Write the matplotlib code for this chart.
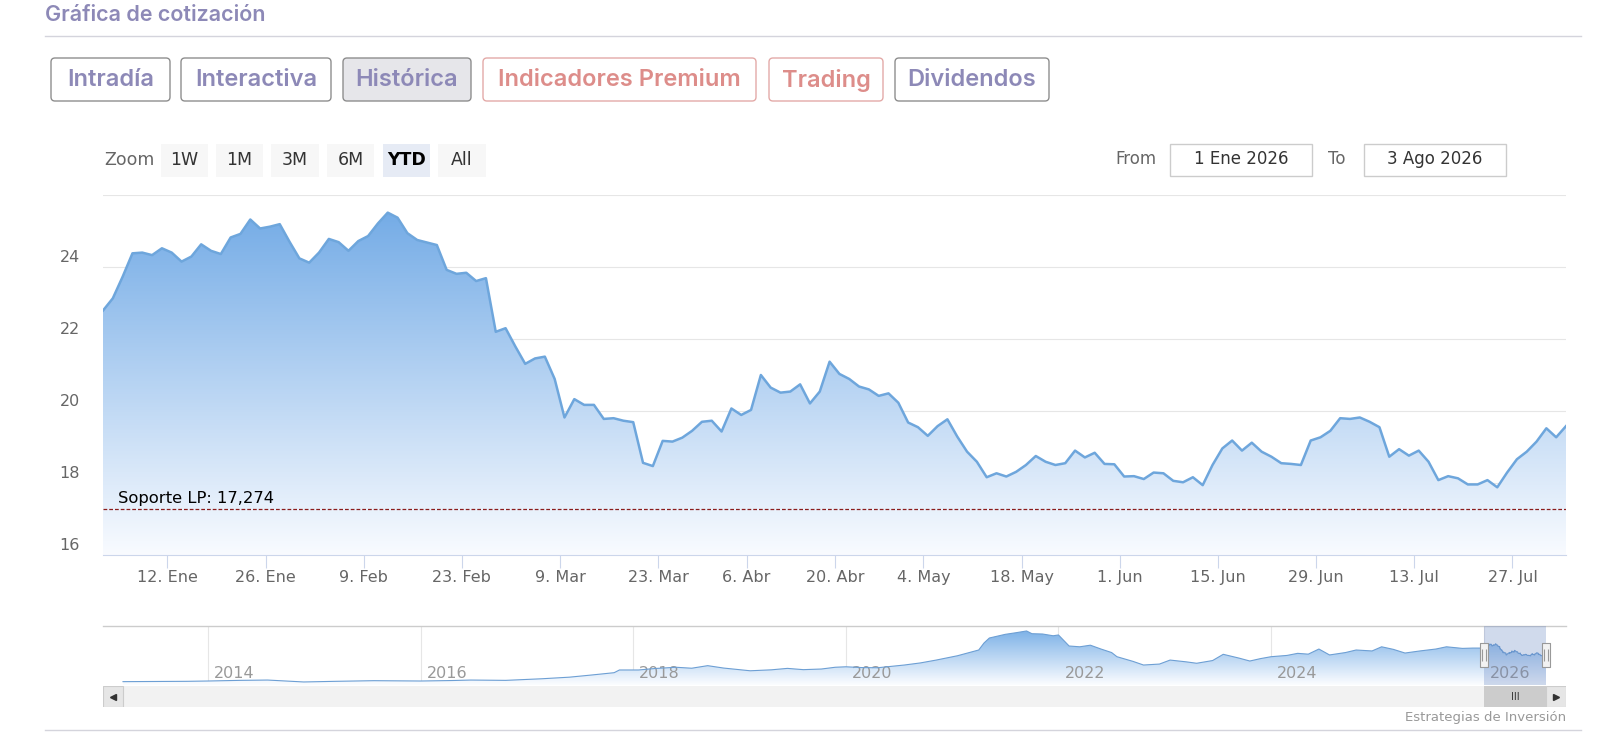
# Cotización histórica YTD con navegador inferior (estilo Highstock)

import numpy as np
import pandas as pd
import matplotlib
matplotlib.use('Agg')
import matplotlib.pyplot as plt
import matplotlib.transforms as mtransforms
from matplotlib.patches import FancyBboxPatch, Rectangle
from matplotlib.path import Path

W, H = 1602, 755

# ---------------- datos ----------------
start_date = '2025-12-31'
end_date = '2026-08-03'
holidays = ['2026-01-01', '2026-04-03', '2026-04-06', '2026-05-01']

close = [22.79, 23.13, 23.73, 24.38, 24.40, 24.33, 24.52, 24.40, 24.15, 24.29,
         24.63, 24.45, 24.36, 24.82, 24.92, 25.32, 25.07, 25.12, 25.19, 24.70,
         24.24, 24.12, 24.40, 24.78, 24.69, 24.45, 24.72, 24.86, 25.21, 25.51,
         25.37, 24.94, 24.75, 24.68, 24.61, 23.92, 23.81, 23.84, 23.61, 23.69,
         22.20, 22.30, 21.79, 21.31, 21.46, 21.51, 20.89, 19.82, 20.33, 20.17,
         20.17, 19.78, 19.80, 19.73, 19.69, 18.56, 18.47, 19.17, 19.15, 19.26,
         19.45, 19.70, 19.73, 19.43, 20.07, 19.89, 20.03, 21.00, 20.65, 20.51,
         20.54, 20.74, 20.21, 20.54, 21.37, 21.03, 20.89, 20.68, 20.60, 20.42,
         20.49, 20.23, 19.68, 19.55, 19.31, 19.58, 19.77, 19.29, 18.87, 18.59,
         18.16, 18.27, 18.18, 18.31, 18.50, 18.75, 18.59, 18.50, 18.55, 18.90,
         18.71, 18.84, 18.53, 18.52, 18.18, 18.19, 18.11, 18.29, 18.27, 18.06,
         18.02, 18.16, 17.94, 18.50, 18.96, 19.18, 18.90, 19.12, 18.87, 18.73,
         18.55, 18.53, 18.50, 19.18, 19.27, 19.45, 19.80, 19.78, 19.82, 19.70,
         19.55, 18.73, 18.94, 18.76, 18.90, 18.59, 18.08, 18.19, 18.13, 17.96,
         17.96, 18.08, 17.88, 18.29, 18.66, 18.87, 19.15, 19.52, 19.27, 19.58]

support_lp = 17.274

tick_dates = ['2026-01-12', '2026-01-26', '2026-02-09', '2026-02-23', '2026-03-09',
              '2026-03-23', '2026-04-06', '2026-04-20', '2026-05-04', '2026-05-18',
              '2026-06-01', '2026-06-15', '2026-06-29', '2026-07-13', '2026-07-27']
tick_labels = ['12. Ene', '26. Ene', '9. Feb', '23. Feb', '9. Mar', '23. Mar',
               '6. Abr', '20. Abr', '4. May', '18. May', '1. Jun', '15. Jun',
               '29. Jun', '13. Jul', '27. Jul']
y_ticks = [16, 18, 20, 22, 24]
y_grid = [16, 18, 20, 22, 24, 26]

# histórico para el navegador (año decimal, cotización)
nav_years = [2013.20, 2013.50, 2013.80, 2014.00, 2014.30, 2014.56, 2014.90, 2015.20,
             2015.56, 2015.80, 2016.00, 2016.30, 2016.47, 2016.80, 2017.14, 2017.40,
             2017.60, 2017.82, 2017.87, 2018.05, 2018.20, 2018.40, 2018.55, 2018.70,
             2018.85, 2019.10, 2019.30, 2019.45, 2019.60, 2019.77, 2019.90, 2020.00,
             2020.15, 2020.30, 2020.55, 2020.70, 2020.85, 2021.05, 2021.25, 2021.30,
             2021.35, 2021.50, 2021.60, 2021.70, 2021.75, 2021.85, 2021.95, 2022.00,
             2022.10, 2022.20, 2022.30, 2022.40, 2022.50, 2022.55, 2022.70, 2022.80,
             2022.95, 2023.05, 2023.20, 2023.30, 2023.45, 2023.55, 2023.70, 2023.80,
             2023.90, 2024.00, 2024.15, 2024.25, 2024.35, 2024.45, 2024.55, 2024.70,
             2024.80, 2024.95, 2025.04, 2025.15, 2025.26, 2025.40, 2025.55, 2025.65,
             2025.80, 2025.90]
nav_close = [1.8, 1.9, 2.0, 2.2, 2.6, 2.8, 1.6, 2.0,
             2.4, 2.3, 2.2, 2.5, 2.8, 2.6, 3.6, 4.6,
             5.9, 7.4, 9.1, 9.1, 10.0, 10.8, 10.2, 11.8,
             10.3, 8.6, 9.2, 10.1, 9.3, 9.7, 10.8, 11.1,
             10.6, 10.5, 12.2, 13.5, 15.3, 18.0, 21.6, 26.0,
             29.1, 31.4, 32.4, 33.5, 31.8, 31.6, 30.5, 31.0,
             24.1, 23.6, 24.6, 22.2, 20.0, 17.4, 14.5, 12.2,
             12.8, 15.3, 14.2, 13.3, 15.0, 18.9, 16.5, 14.7,
             16.2, 17.4, 18.2, 19.5, 19.0, 22.2, 18.5, 20.0,
             21.6, 21.0, 23.6, 22.0, 19.7, 21.0, 22.2, 23.6,
             22.6, 22.8]
nav_year_ticks = [2014, 2016, 2018, 2020, 2022, 2024, 2026]

tabs = ['Intradía', 'Interactiva', 'Histórica', 'Indicadores Premium', 'Trading', 'Dividendos']
range_buttons = ['1W', '1M', '3M', '6M', 'YTD', 'All']
date_from = '1 Ene 2026'
date_to = '3 Ago 2026'

# ---------------- preparación ----------------
dates = pd.bdate_range(start_date, end_date, freq='C', holidays=holidays)
assert len(dates) == len(close)
idx = np.arange(len(close))
tick_pos = dates.searchsorted(pd.to_datetime(tick_dates)) - 0.45


def dec_year(d):
    d = pd.DatetimeIndex(d)
    return d.year + (d.dayofyear - 1) / np.where(d.is_leap_year, 366, 365)


sel0 = dec_year(['2026-01-01'])[0]
sel1 = dec_year(dates[-1:])[0]
nav_x = np.concatenate([nav_years, dec_year(dates)])
nav_y = np.concatenate([nav_close, close])


def fig_rect(x0, y0, x1, y1):
    return [x0 / W, 1 - y1 / H, (x1 - x0) / W, (y1 - y0) / H]


def grad_fill(ax, x, y, base, top, c_top, c_bot):
    t = np.linspace(0, 1, 256)[:, None]
    c_top = np.array(c_top) / 255.0
    c_bot = np.array(c_bot) / 255.0
    img = (c_bot + (c_top - c_bot) * t).reshape(256, 1, 3)
    im = ax.imshow(img, extent=[x[0], x[-1], base, top], origin='lower',
                   aspect='auto', interpolation='bilinear', zorder=1)
    poly = ax.fill_between(x, y, base, facecolor='none', edgecolor='none')
    im.set_clip_path(poly.get_paths()[0], transform=ax.transData)


MAIN_FONT = ['DejaVu Sans']
HEAD_FONT = ['Inter', 'Lato', 'DejaVu Sans']

fig = plt.figure(figsize=(W / 100, H / 100), dpi=100)
fig.patch.set_facecolor('white')

# capa de interfaz en píxeles
ui = fig.add_axes([0, 0, 1, 1], zorder=-1)
ui.set_xlim(0, W)
ui.set_ylim(H, 0)
ui.axis('off')

ui.text(45, 15, 'Gráfica de cotización', family=HEAD_FONT, fontsize=15.5,
        weight='semibold', color='#8d89b7', va='center', ha='left')
ui.plot([45, 1581], [36, 36], color='#d4d4dc', lw=1)

tab_x = [(51, 170), (181, 331), (343, 471), (483, 756), (769, 883), (895, 1049)]
tab_red = [False, False, False, True, True, False]
for name, (x0, x1), red in zip(tabs, tab_x, tab_red):
    face = '#e6e6ea' if name == 'Histórica' else 'white'
    edge = '#e3aaa8' if red else '#8e8e8e'
    ui.add_patch(FancyBboxPatch((x0, 58), x1 - x0, 43,
                                boxstyle='round,pad=0,rounding_size=4',
                                facecolor=face, edgecolor=edge, lw=1))
    ui.text((x0 + x1) / 2, 80, name, family=HEAD_FONT, fontsize=17,
            weight='semibold', color='#dd8d8a' if red else '#8d89b7',
            ha='center', va='center')

ui.text(104, 160, 'Zoom', family=MAIN_FONT, fontsize=12.5, color='#666666',
        ha='left', va='center')
rb_x = [(161, 208), (216, 263), (271, 319), (327, 374), (383, 430), (438, 486)]
for name, (x0, x1) in zip(range_buttons, rb_x):
    active = name == 'YTD'
    ui.add_patch(Rectangle((x0, 144), x1 - x0, 33,
                           facecolor='#e6ebf5' if active else '#f7f7f7', lw=0))
    ui.text((x0 + x1) / 2, 160, name, family=MAIN_FONT, fontsize=12.5,
            color='#000000' if active else '#333333',
            weight='bold' if active else 'normal', ha='center', va='center')

ui.text(1115, 159, 'From', family=MAIN_FONT, fontsize=12, color='#666666',
        ha='left', va='center')
ui.add_patch(Rectangle((1170, 144), 142, 32, facecolor='white',
                       edgecolor='#cccccc', lw=1))
ui.text(1241, 159, date_from, family=MAIN_FONT, fontsize=12, color='#333333',
        ha='center', va='center')
ui.text(1328, 159, 'To', family=MAIN_FONT, fontsize=12, color='#666666',
        ha='left', va='center')
ui.add_patch(Rectangle((1364, 144), 142, 32, facecolor='white',
                       edgecolor='#cccccc', lw=1))
ui.text(1435, 159, date_to, family=MAIN_FONT, fontsize=12, color='#333333',
        ha='center', va='center')

ui.text(1566, 717, 'Estrategias de Inversión', family=MAIN_FONT, fontsize=9.5,
        color='#999999', ha='right', va='center')
ui.plot([45, 1581], [730, 730], color='#d4d4dc', lw=1)

# ---------------- gráfico principal ----------------
ax = fig.add_axes(fig_rect(103, 195, 1566, 555))
grad_fill(ax, idx, close, y_grid[0], y_grid[-1], (110, 168, 229), (249, 251, 255))
ax.plot(idx, close, color='#6ea6dc', lw=1.8, solid_joinstyle='round', zorder=3)
ax.axhline(support_lp, color='#8b1c1c', lw=0.9, dashes=(3, 1.6), zorder=4)
ax.text(0.0103, support_lp, 'Soporte LP: ' + f'{support_lp:.3f}'.replace('.', ','),
        transform=mtransforms.offset_copy(ax.get_yaxis_transform(), fig=fig, y=11, units='dots'),
        family=MAIN_FONT, fontsize=11.8, color='#000000', ha='left', va='center', zorder=5)

ax.set_xlim(idx[0], idx[-1])
ax.set_ylim(y_grid[0], y_grid[-1])
ax.set_yticks(y_grid)
ax.yaxis.grid(True, color='#e6e6e6', lw=0.8)
ax.set_axisbelow(True)
ax.tick_params(axis='y', length=0, labelleft=False)
for v in y_ticks:
    ax.text(-0.0157, v, str(v),
            transform=mtransforms.offset_copy(ax.get_yaxis_transform(), fig=fig, y=9, units='dots'),
            family=MAIN_FONT, fontsize=11.5, color='#666666', ha='right', va='center')
ax.set_xticks(tick_pos)
ax.set_xticklabels(tick_labels, family=MAIN_FONT)
ax.tick_params(axis='x', direction='out', length=9.4, width=0.8, color='#ccd6eb',
               labelcolor='#666666', labelsize=11.5, pad=1.5)
for s in ['top', 'left', 'right']:
    ax.spines[s].set_visible(False)
ax.spines['bottom'].set_color('#ccd6eb')
ax.spines['bottom'].set_linewidth(0.8)

# ---------------- navegador ----------------
nav = fig.add_axes(fig_rect(103, 625.7, 1566, 685))
pad = (nav_x[-1] - nav_x[0]) * 20 / 1423
nav_ylim = (-0.3, 36.8)
grad_fill(nav, nav_x, nav_y, nav_ylim[0], nav_ylim[1], (112, 170, 229), (252, 253, 255))
nav.plot(nav_x, nav_y, color='#6d9fd4', lw=0.8, zorder=3)
nav.set_xlim(nav_x[0] - pad, nav_x[-1] + pad)
nav.set_ylim(*nav_ylim)
nav.set_xticks(nav_year_ticks)
nav.xaxis.grid(True, color='#e6e6e6', lw=0.8)
nav.set_axisbelow(True)
nav.tick_params(length=0, labelbottom=False, labelleft=False)
nav.set_yticks([])
for s in ['bottom', 'left', 'right']:
    nav.spines[s].set_visible(False)
nav.spines['top'].set_color('#cccccc')
nav.spines['top'].set_linewidth(1.0)
year_tr = mtransforms.offset_copy(nav.get_xaxis_transform(), fig=fig, x=6, units='dots')
for yr in nav_year_ticks:
    nav.text(yr, 0.19, str(yr), transform=year_tr, family=MAIN_FONT, fontsize=11.5,
             color='#999999', ha='left', va='center', zorder=2)
nav.axvspan(sel0, sel1, color=(102 / 255, 133 / 255, 194 / 255), alpha=0.3, lw=0, zorder=4)

handle = Path([(-4, -12), (4, -12), (4, 12), (-4, 12), (-4, -12),
               (-1.5, -6), (-1.5, 6), (1.5, -6), (1.5, 6)],
              [Path.MOVETO, Path.LINETO, Path.LINETO, Path.LINETO, Path.CLOSEPOLY,
               Path.MOVETO, Path.LINETO, Path.MOVETO, Path.LINETO])
nav.plot([sel0, sel1], [0.5, 0.5], transform=nav.get_xaxis_transform(), ls='none',
         marker=handle, ms=17.3, mfc='#f2f2f2', mec='#999999', mew=0.8,
         zorder=6, clip_on=False)

# barra de desplazamiento
sb = fig.add_axes(fig_rect(103, 686, 1566, 707))
sb.set_xlim(nav.get_xlim())
sb.set_ylim(0, 1)
sb.set_facecolor('#f2f2f2')
sb.set_xticks([])
sb.set_yticks([])
for s in sb.spines.values():
    s.set_visible(False)
xl = sb.get_xlim()
sb.axvspan(xl[0], nav_x[0], facecolor='#e6e6e6', edgecolor='#cccccc', lw=0.8)
sb.axvspan(nav_x[-1], xl[1], facecolor='#e6e6e6', edgecolor='#cccccc', lw=0.8)
sb.plot([(xl[0] + nav_x[0]) / 2], [0.5], marker='<', color='#333333', ms=4)
sb.plot([(nav_x[-1] + xl[1]) / 2], [0.5], marker='>', color='#333333', ms=4)
sb.axvspan(sel0, sel1, facecolor='#cccccc', lw=0)
sb.text((sel0 + sel1) / 2, 0.5, 'III', family=MAIN_FONT, fontsize=7,
        color='#333333', ha='center', va='center')

plt.savefig('out.png', dpi=100)
